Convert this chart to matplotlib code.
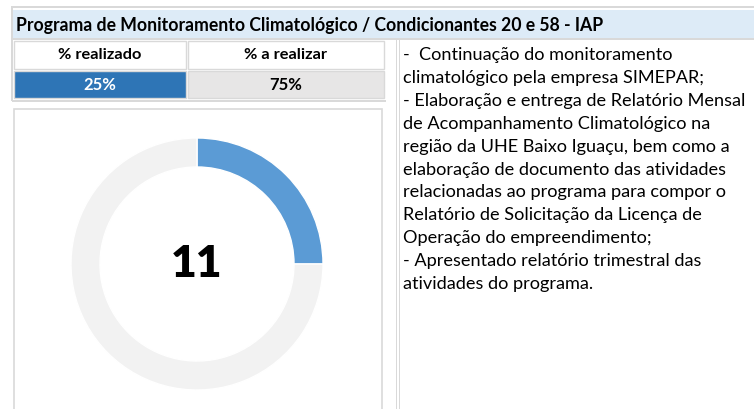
import matplotlib.pyplot as plt
from matplotlib.patches import Rectangle

plt.rcParams['font.family'] = ['Lato', 'DejaVu Sans']

title = "Programa de Monitoramento Climatológico / Condicionantes 20 e 58 - IAP"
headers = ["% realizado", "% a realizar"]
shares = [25, 75]
count = 11
notes = [
    "-  Continuação do monitoramento",
    "climatológico pela empresa SIMEPAR;",
    "- Elaboração e entrega de Relatório Mensal",
    "de Acompanhamento Climatológico na",
    "região da UHE Baixo Iguaçu, bem como a",
    "elaboração de documento das atividades",
    "relacionadas ao programa para compor o",
    "Relatório de Solicitação da Licença de",
    "Operação do empreendimento;",
    "- Apresentado relatório trimestral das",
    "atividades do programa.",
]

W, H = 754, 409
fig = plt.figure(figsize=(W / 100, H / 100), dpi=100)
ax = fig.add_axes([0, 0, 1, 1])
ax.set_xlim(0, W)
ax.set_ylim(H, 0)
ax.axis('off')

grey = '#d9d9d9'
# outer top border and header band
ax.add_patch(Rectangle((11, 6), W - 11, 2, color=grey, lw=0))
ax.add_patch(Rectangle((11, 6), 2, 95, color=grey, lw=0))
ax.add_patch(Rectangle((13, 10), W - 13, 28, color='#ddebf7', lw=0))
ax.add_patch(Rectangle((13, 38), W - 13, 2, color=grey, lw=0))
ax.text(16, 25, title, fontsize=12.7, fontweight='bold', va='center', ha='left', color='black')

# header cells
cells_x = [(14, 172), (188, 196)]
for (x0, w), lab in zip(cells_x, headers):
    ax.add_patch(Rectangle((x0, 41), w, 28, facecolor='white', edgecolor=grey, lw=1))
    ax.text(x0 + w / 2, 55, lab, fontsize=11.8, fontweight='bold', ha='center', va='center')

# value cells
fills = ['#2e75b6', '#e7e6e6']
tcols = ['white', 'black']
for (x0, w), v, fc, tc in zip(cells_x, shares, fills, tcols):
    ax.add_patch(Rectangle((x0, 71), w, 27, facecolor=fc, edgecolor=grey, lw=1))
    ax.text(x0 + w / 2, 85, f"{v}%", fontsize=12, fontweight='bold', ha='center', va='center', color=tc)
ax.add_patch(Rectangle((12, 100), 374, 1.5, color=grey, lw=0))

# chart box
ax.add_patch(Rectangle((13.5, 108.5), 368, 310, facecolor='white', edgecolor=grey, lw=1.2))

# divider lines of the notes panel
ax.add_patch(Rectangle((395.5, 40), 1.6, H, color=grey, lw=0))
ax.add_patch(Rectangle((398.5, 40), 1.6, H, color=grey, lw=0))

y = 55
for line in notes:
    ax.text(403, y, line, fontsize=13.1, ha='left', va='center', color='black')
    y += 22.9

# donut
cx, cy, r = 197, 264, 126
dax = fig.add_axes([(cx - r) / W, 1 - (cy + r) / H, 2 * r / W, 2 * r / H])
dax.pie(shares, colors=['#5b9bd5', '#f2f2f2'], startangle=90, counterclock=False,
        radius=1, wedgeprops=dict(width=0.23, edgecolor='white', linewidth=1))
dax.set_xlim(-1, 1)
dax.set_ylim(-1, 1)
dax.set_aspect('equal')
dax.axis('off')
dax.text(0, 0, str(count), fontsize=32, fontweight='heavy', ha='center', va='center')

fig.savefig('out.png', dpi=100)
